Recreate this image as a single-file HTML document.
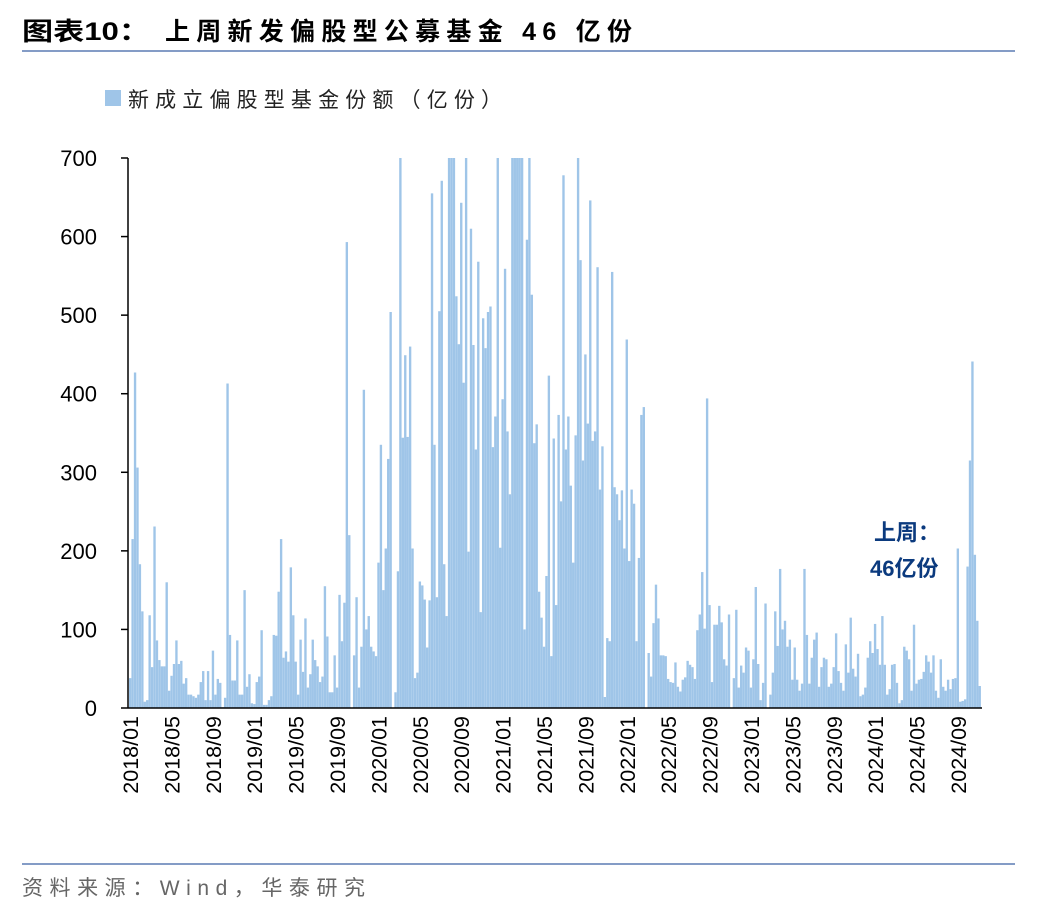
<!DOCTYPE html>
<html><head><meta charset="utf-8"><style>
body{margin:0;background:#fff;width:1048px;height:916px;overflow:hidden;font-family:"Liberation Sans","Noto Sans CJK SC",sans-serif}
</style></head><body>
<svg width="1048" height="916" xmlns="http://www.w3.org/2000/svg">
<text x="22" y="40" font-size="25" font-weight="bold" fill="#000" textLength="128" lengthAdjust="spacingAndGlyphs" font-family="Liberation Sans, Noto Sans CJK SC, sans-serif">图表10：</text>
<text x="165" y="40" font-size="25" font-weight="bold" fill="#000" textLength="467" lengthAdjust="spacing" font-family="Liberation Sans, Noto Sans CJK SC, sans-serif">上周新发偏股型公募基金 46 亿份</text>
<line x1="22" y1="51" x2="1015" y2="51" stroke="#5b7bb3" stroke-width="1.5"/>
<rect x="105" y="90" width="16" height="16" fill="#9fc5e8"/>
<text x="128" y="107" font-size="21" fill="#222" textLength="374" lengthAdjust="spacing" font-family="Liberation Sans, Noto Sans CJK SC, sans-serif">新成立偏股型基金份额（亿份）</text>
<g id="bars"></g>
<g id="axes"></g>
<text x="874" y="540" font-size="22" font-weight="bold" fill="#0b3a7e" font-family="Liberation Sans, Noto Sans CJK SC, sans-serif">上周：</text>
<text x="870" y="576" font-size="22" font-weight="bold" fill="#0b3a7e" font-family="Liberation Sans, Noto Sans CJK SC, sans-serif">46亿份</text>
<line x1="22" y1="864" x2="1015" y2="864" stroke="#5b7bb3" stroke-width="1.5"/>
<text x="22" y="895" font-size="21" fill="#666" textLength="343" lengthAdjust="spacing" font-family="Liberation Sans, Noto Sans CJK SC, sans-serif">资料来源：Wind，华泰研究</text>
</svg>
<script>
const values=[38,215,427,306,183,123,8,10,118,52,231,86,61,53,53,160,22,41,56,86,56,60,31,38,17,17,15,13,17,33,47,10,47,10,73,17,37,32,1,13,413,93,35,35,86,17,17,150,27,43,6,5,33,40,99,4,4,10,15,93,92,148,215,64,72,59,179,118,59,17,87,46,114,26,43,87,61,53,33,40,155,91,20,20,67,26,144,85,134,593,220,0,67,141,26,78,405,100,117,78,72,66,185,335,150,203,317,504,0,20,174,700,344,449,345,460,203,38,45,161,156,138,77,137,655,335,141,505,671,183,117,700,700,700,524,463,643,414,700,199,610,462,329,568,122,496,458,504,511,332,371,700,204,393,559,352,272,700,700,700,700,700,100,596,700,526,337,361,148,115,78,168,423,66,343,131,373,263,678,329,371,283,185,347,700,570,315,450,362,646,340,352,561,278,333,14,89,85,555,281,272,239,277,203,469,187,278,260,85,191,373,383,0,70,40,108,157,114,67,67,66,37,33,32,58,27,21,36,39,60,55,52,37,99,119,173,101,394,131,33,106,106,130,109,62,54,119,0,38,125,26,54,45,77,73,26,62,154,56,10,32,133,0,17,45,123,79,177,100,111,78,87,36,77,36,22,31,177,93,31,64,87,96,27,52,64,62,27,31,52,95,47,32,22,81,45,115,50,40,69,15,17,26,64,85,70,107,75,55,117,55,17,24,55,56,32,6,10,78,73,62,22,106,31,36,37,46,67,59,45,67,22,13,62,27,22,36,24,37,38,203,8,9,11,180,315,441,195,111,28];
const tickLabels=["2018/01","2018/05","2018/09","2019/01","2019/05","2019/09","2020/01","2020/05","2020/09","2021/01","2021/05","2021/09","2022/01","2022/05","2022/09","2023/01","2023/05","2023/09","2024/01","2024/05","2024/09"];
const yTicks=[0,100,200,300,400,500,600,700];
const NS="http://www.w3.org/2000/svg";
const x0=129,x1=981,y0=708,yTop=158,yMax=700;
const step=(x1-x0)/values.length;
function ys(v){return y0-(Math.min(v,yMax)/yMax)*(y0-yTop);}
function xb(i){return x0+i*step;}
function xm(label){const [y,m]=label.split("/").map(Number);return 130+((y-2018)*12+(m-1))*10.35;}
const bars=document.getElementById("bars");
values.forEach((v,i)=>{const r=document.createElementNS(NS,"rect");
r.setAttribute("x",xb(i));r.setAttribute("y",ys(v));r.setAttribute("width",step*0.97);r.setAttribute("height",y0-ys(v));r.setAttribute("fill","#9fc5e8");


bars.appendChild(r);});
const ax=document.getElementById("axes");
function ln(a,b,c,d){const l=document.createElementNS(NS,"line");l.setAttribute("x1",a);l.setAttribute("y1",b);l.setAttribute("x2",c);l.setAttribute("y2",d);l.setAttribute("stroke","#000");l.setAttribute("stroke-width","1.5");ax.appendChild(l);return l;}
const ya=ln(128,158,128,708);


const xa=ln(128,708,982,708);


yTicks.forEach(t=>{const tk=ln(121,ys(t),128,ys(t));


const tx=document.createElementNS(NS,"text");tx.setAttribute("x",97);tx.setAttribute("y",ys(t)+8);tx.setAttribute("text-anchor","end");tx.setAttribute("font-size","22");tx.textContent=t;


ax.appendChild(tx);});
tickLabels.forEach(lb=>{const x=xm(lb);const tx=document.createElementNS(NS,"text");
tx.setAttribute("transform","translate("+(x+8)+",716) rotate(-90)");tx.setAttribute("text-anchor","end");tx.setAttribute("font-size","21.5");tx.textContent=lb;


ax.appendChild(tx);});
</script>
</body></html>
